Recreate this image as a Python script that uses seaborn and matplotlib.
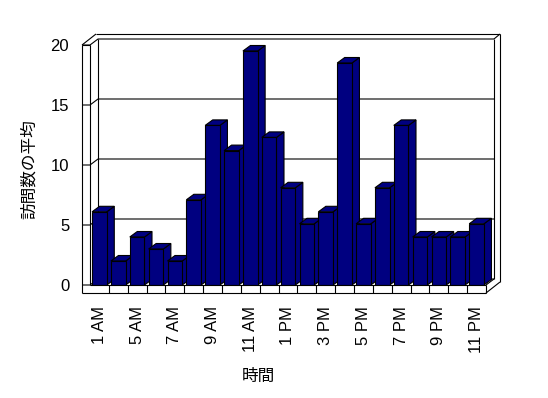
import numpy as np
import pandas as pd
import seaborn as sns
import matplotlib
matplotlib.use("Agg")
import matplotlib.pyplot as plt
from matplotlib.patches import Polygon
from matplotlib.lines import Line2D
from matplotlib.transforms import IdentityTransform

hours = ['1 AM', '3 AM', '5 AM', '6 AM', '7 AM', '8 AM', '9 AM', '10 AM', '11 AM',
         '12 PM', '1 PM', '2 PM', '3 PM', '4 PM', '5 PM', '6 PM', '7 PM', '8 PM',
         '9 PM', '10 PM', '11 PM']
values = [6.1, 2.0, 4.0, 3.0, 2.0, 7.1, 13.3, 11.2, 19.5, 12.3, 8.1, 5.1, 6.1,
          18.5, 5.1, 8.1, 13.3, 4.0, 4.0, 4.0, 5.1]
yticks = [0, 5, 10, 15, 20]
xlabel = '時間'
ylabel = '訪問数の平均'

NAVY = '#000080'

sns.set_style('white')
plt.rcParams['font.family'] = ['Liberation Sans', 'Noto Sans CJK JP', 'DejaVu Sans']
plt.rcParams['text.color'] = 'black'
plt.rcParams['xtick.color'] = 'black'
plt.rcParams['ytick.color'] = 'black'
plt.rcParams['axes.labelcolor'] = 'black'

W, H = 548, 398
fig = plt.figure(figsize=(W / 100, H / 100), dpi=100)
fig.patch.set_facecolor('white')
L, R, T, B = 90, 486, 45, 285
ax = fig.add_axes([L / W, 1 - B / H, (R - L) / W, (B - T) / H])
ax.patch.set_alpha(0)

df = pd.DataFrame({'hour': hours, 'value': values})
sns.barplot(data=df, x='hour', y='value', order=hours, color=NAVY, saturation=1,
            width=0.78, edgecolor='black', linewidth=1, ax=ax)
ax.set_xlim(-0.5, len(hours) - 0.5)
ax.set_ylim(yticks[0], yticks[-1])
for s in ax.spines.values():
    s.set_visible(False)
ax.set_xlabel('')
ax.set_ylabel('')
ax.set_xticks(range(0, len(hours), 2), hours[::2], rotation=90, fontsize=12)
ax.set_yticks(yticks, [str(v) for v in yticks], fontsize=12)
ax.tick_params(axis='x', length=0, pad=15, labelcolor='black')
ax.tick_params(axis='y', length=0, pad=15, labelcolor='black')
ax.grid(False)

fig.canvas.draw()


def P(xd, yd, ox=0.0, oy=0.0):
    px, py = ax.transData.transform((xd, yd))
    return (px + ox, py + oy)


def line(pts, z=1.5, lw=0.8):
    ax.add_artist(Line2D([p[0] for p in pts], [p[1] for p in pts],
                         transform=IdentityTransform(), color='black', lw=lw,
                         clip_on=False, zorder=z, solid_capstyle='butt'))


x0, x1 = -0.5, len(hours) - 0.5
y0, y1 = yticks[0], yticks[-1]
D1 = (8, 6)     # inner back plane offset (pixels)
D2 = (14, 11)   # outer back plane offset
SL = 8          # slab thickness

# gridlines on back wall + left wall
for v in yticks:
    line([P(x0, v, -SL, 0), P(x0, v), P(x0, v, *D1), P(x1, v, *D1)], z=1)

# left wall
line([P(x0, y1, -SL, 0), P(x0, y0, -SL, -SL)])
line([P(x0, y1), P(x0, y0)])
line([P(x0, y1, *D1), P(x0, y0, *D1)])
line([P(x0, y1, -SL, 0), P(x0, y1)])
line([P(x0, y1, -SL, 0), P(x0, y1, -SL + D2[0], D2[1])])
# back wall outer top & right
line([P(x0, y1, -SL + D2[0], D2[1]), P(x1, y1, *D2)])
line([P(x1, y1, *D1), P(x1, y1, *D2)])
line([P(x1, y1, *D1), P(x1, y0, *D1)])
line([P(x1, y1, *D2), P(x1, y0, D2[0], D2[1] - SL)])
# floor
line([P(x0, y0), P(x1, y0)], z=200)
line([P(x0, y0, -SL, -SL), P(x1, y0, 0, -SL)], z=200)
line([P(x1, y0), P(x1, y0, 0, -SL)], z=200)
line([P(x1, y0), P(x1, y0, *D1)], z=1)
line([P(x1, y0, 0, -SL), P(x1, y0, D2[0], D2[1] - SL)], z=200)
for k in range(len(hours) - 1):
    line([P(k + 0.5, y0), P(k + 0.5, y0, 0, -SL)], z=200)

# 3D bars: side + top faces
DB = (7.5, 5.5)
for i, p in enumerate(ax.patches):
    bx, bw, bh = p.get_x(), p.get_width(), p.get_height()
    bl, br = P(bx, 0), P(bx + bw, 0)
    tl, tr = P(bx, bh), P(bx + bw, bh)
    side = [br, tr, (tr[0] + DB[0], tr[1] + DB[1]), (br[0] + DB[0], br[1] + DB[1])]
    top = [tl, tr, (tr[0] + DB[0], tr[1] + DB[1]), (tl[0] + DB[0], tl[1] + DB[1])]
    for j, poly in enumerate([side, top]):
        ax.add_artist(Polygon(poly, closed=True, facecolor=NAVY, edgecolor='black',
                              lw=0.8, transform=IdentityTransform(), clip_on=False,
                              zorder=3 + 3 * i + j, joinstyle='miter'))
    p.set_zorder(3 + 3 * i + 2)
    p.set_linewidth(0.8)

fig.text(29 / W, 1 - 169 / H, ylabel, rotation=90, ha='center', va='center',
         fontsize=12, color='black', family=['Noto Sans CJK JP', 'DejaVu Sans'])
fig.text(258 / W, 1 - 376 / H, xlabel, ha='center', va='center',
         fontsize=12, color='black', family=['Noto Sans CJK JP', 'DejaVu Sans'])

fig.savefig('out.png', dpi=100, facecolor='white')
